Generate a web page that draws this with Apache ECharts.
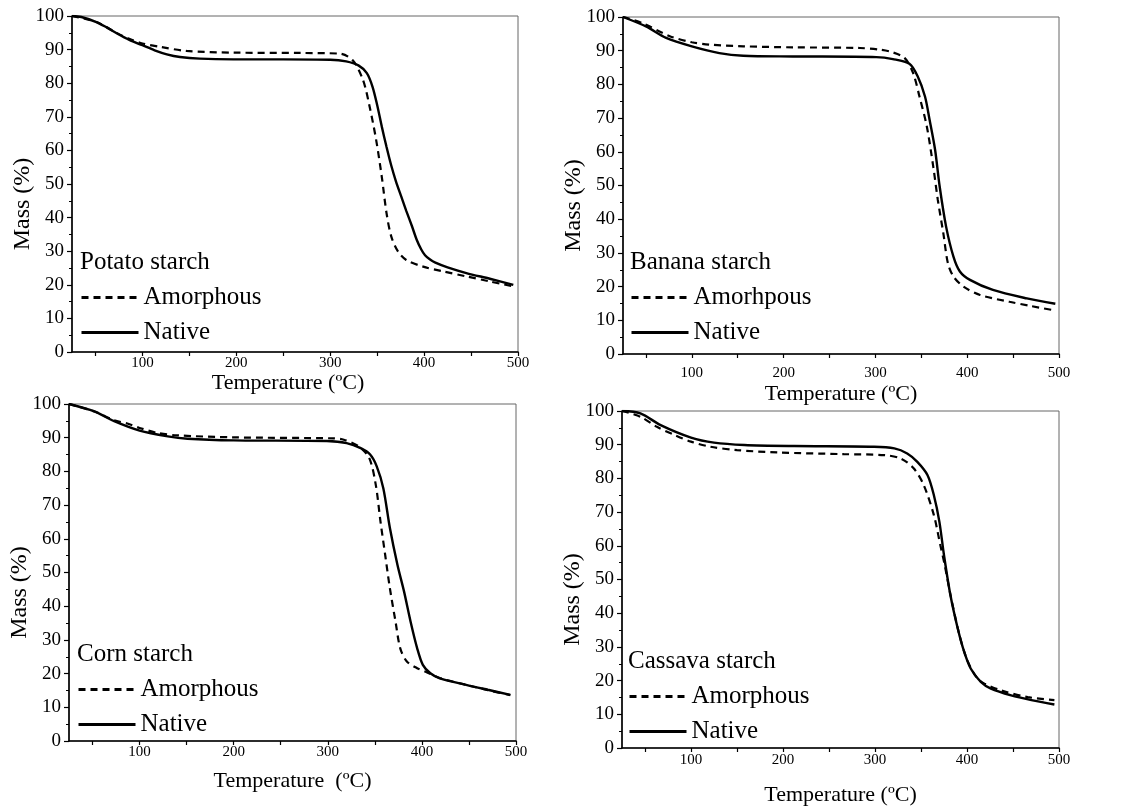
<!DOCTYPE html>
<html lang="en">
<head>
<meta charset="UTF-8">
<title>TGA starch</title>
<script src="https://cdn.jsdelivr.net/npm/echarts@6/dist/echarts.min.js"></script>
<style>html,body{margin:0;padding:0;background:#fff;}</style>
</head>
<body>
<div id="main" style="width:1133px;height:810px;"></div>
<script>
// values: [temperature (ºC), mass (%)]
var potatoAmorphous = [[25,100],[51,98.2],[73,94.9],[86,93.2],[100,91.8],[119,90.8],[147,89.6],[197,89.1],[268,89],[310,88.8],[324,86.8],[335,80.9],[342,73],[349,63],[355,52],[360,41.3],[365,34.4],[372,30],[381,27.4],[399,25.4],[420,24],[445,22.5],[470,21],[495,19.5]];
var potatoNative = [[25,100],[35,99.7],[51,98.2],[62,96.6],[73,94.8],[86,92.9],[100,91.3],[113,89.8],[126,88.6],[140,87.8],[161,87.3],[197,87.1],[250,87.1],[300,87],[317,86.5],[330,85.3],[339,83],[345,79],[350,73.5],[355,67],[360,61],[365,55.5],[370,50.8],[376,46],[381,42],[387,37.5],[392,33.5],[397,30.5],[401,28.8],[406,27.6],[412,26.6],[425,25.2],[445,23.5],[470,21.8],[495,20]];

var bananaAmorphous = [[25,100],[46,98.2],[76,94.3],[100,92.5],[119,91.8],[156,91.3],[210,91],[283,90.8],[305,90.3],[319,89.5],[332,87.8],[341,83.4],[348,76.4],[356,67.5],[363,55.6],[368,45.7],[374,35.8],[379,26.9],[385,23],[396,20],[414,17.5],[446,15.5],[470,14.2],[496,12.9]];
var bananaNative = [[25,100],[50,97.2],[72,93.8],[100,91.3],[130,89.3],[156,88.5],[210,88.3],[301,88.1],[319,87.5],[337,86.1],[346,82.4],[354,76.4],[359,69.5],[365,60.6],[370,49.7],[377,37.8],[385,28.9],[392,24.5],[403,22],[428,19],[465,16.5],[496,14.9]];

var cornAmorphous = [[25,100],[52,97.8],[73,95.2],[87,94.2],[100,92.9],[119,91.4],[140,90.7],[200,90.1],[306,89.8],[317,89.4],[333,87.4],[344,84],[351,76],[356,65.1],[361,55.2],[366,45.3],[372,35.4],[377,27.5],[384,23.6],[395,21.6],[405,20.4],[419,18.7],[448,16.6],[470,15.1],[494,13.6]];
var cornNative = [[25,100],[52,97.8],[73,94.9],[100,92.1],[130,90.4],[151,89.7],[200,89.2],[299,89],[320,88.4],[335,86.9],[345,85],[352,81.5],[359,75],[366,63.2],[374,52.3],[381,44.4],[388,35.4],[395,27.5],[401,22.6],[409,20.1],[419,18.6],[448,16.6],[470,15.2],[494,13.7]];

var cassavaAmorphous = [[25,100],[45,98.3],[63,95.3],[82,92.9],[100,90.9],[121,89.4],[150,88.4],[194,87.7],[266,87.2],[310,86.9],[328,85.9],[342,83],[353,78],[364,69.1],[371,60.2],[376,54],[382,45.5],[390,35.5],[397,28.5],[404,23.8],[412,20.5],[419,19.1],[437,17.1],[466,15.1],[495,14.2]];
var cassavaNative = [[25,100],[45,99.3],[67,95.8],[100,92.1],[125,90.6],[158,89.9],[212,89.6],[299,89.4],[321,88.9],[335,87.4],[346,84.9],[357,81],[364,75],[370,67.1],[375,57.2],[382,45.3],[390,35.4],[397,28.5],[404,23.6],[415,19.6],[426,17.6],[448,15.6],[470,14.2],[495,12.9]];

var xLabelValues = [100, 200, 300, 400, 500];
var xTickValues = [50, 100, 150, 200, 250, 300, 350, 400, 450, 500];

var font = 'Liberation Serif';

var chart = echarts.init(document.getElementById('main'));

// one entry per panel: grid box, names and a few label offsets
var panels = [
    {grid: {left: 72, top: 16, width: 446, height: 336}, title: 'Potato starch', amorph: 'Amorphous',
     amorphData: potatoAmorphous, nativeData: potatoNative, xName: 'Temperature (ºC)',
     labelMargin: 4, nameGap: 18, namePad: [0, 14, 0, 0], legendLeft: 80, legendTop: 285, titleTop: 250},
    {grid: {left: 623, top: 17, width: 436, height: 337}, title: 'Banana starch', amorph: 'Amorhpous',
     amorphData: bananaAmorphous, nativeData: bananaNative, xName: 'Temperature (ºC)',
     labelMargin: 12, nameGap: 29, namePad: [0, 0, 0, 0], legendLeft: 630, legendTop: 285, titleTop: 250},
    {grid: {left: 69, top: 404, width: 447, height: 337}, title: 'Corn starch', amorph: 'Amorphous',
     amorphData: cornAmorphous, nativeData: cornNative, xName: 'Temperature  (ºC)',
     labelMargin: 4, nameGap: 29, namePad: [0, 0, 0, 0], legendLeft: 77, legendTop: 677, titleTop: 642},
    {grid: {left: 622, top: 411, width: 437, height: 337}, title: 'Cassava starch', amorph: 'Amorphous',
     amorphData: cassavaAmorphous, nativeData: cassavaNative, xName: 'Temperature (ºC)',
     labelMargin: 5, nameGap: 36, namePad: [0, 0, 0, 0], legendLeft: 628, legendTop: 684, titleTop: 649}
];

var option = {
    backgroundColor: '#fff',
    animation: false,
    title: [],
    legend: [],
    grid: [],
    xAxis: [],
    yAxis: [],
    series: []
};

panels.forEach(function (p, i) {
    option.grid.push({
        left: p.grid.left, top: p.grid.top, width: p.grid.width, height: p.grid.height,
        show: true, borderColor: '#666', borderWidth: 1
    });
    option.xAxis.push({
        type: 'value', gridIndex: i, min: 25, max: 500,
        name: p.xName, nameLocation: 'middle', nameGap: p.nameGap,
        nameTextStyle: {fontFamily: font, fontSize: 22, color: '#000', padding: p.namePad},
        axisLine: {lineStyle: {color: '#000', width: 1.6}},
        axisTick: {show: true, customValues: xTickValues, length: 4, lineStyle: {color: '#000', width: 1.2}},
        axisLabel: {customValues: xLabelValues, fontFamily: font, fontSize: 15, color: '#000', margin: p.labelMargin},
        splitLine: {show: false}
    });
    option.yAxis.push({
        type: 'value', gridIndex: i, min: 0, max: 100, interval: 10,
        name: 'Mass (%)', nameLocation: 'middle', nameGap: 37, nameMoveOverlap: false,
        nameTextStyle: {fontFamily: font, fontSize: 24, color: '#000', padding: [0, 40, 0, 0]},
        axisLine: {show: true, lineStyle: {color: '#000', width: 1.6}},
        axisTick: {show: true, length: 5, lineStyle: {color: '#000', width: 1.2}},
        minorTick: {show: true, splitNumber: 2, length: 3, lineStyle: {color: '#000', width: 1}},
        axisLabel: {fontFamily: font, fontSize: 19, color: '#000', margin: 8},
        splitLine: {show: false}
    });
    option.title.push({
        text: p.title, left: p.legendLeft, top: p.titleTop, padding: 0,
        textStyle: {fontFamily: font, fontSize: 25, fontWeight: 'normal', color: '#000'}
    });
    option.legend.push({
        data: [p.amorph, 'Native'], orient: 'vertical', left: p.legendLeft, top: p.legendTop,
        padding: 0, itemWidth: 57, itemHeight: 14, itemGap: 10, selectedMode: false,
        itemStyle: {opacity: 0},
        lineStyle: {width: 3},
        textStyle: {fontFamily: font, fontSize: 25, color: '#000'}
    });
    option.series.push({
        name: p.amorph, type: 'line', xAxisIndex: i, yAxisIndex: i,
        data: p.amorphData, showSymbol: false, symbol: 'none', smooth: 0.3,
        lineStyle: {color: '#000', width: 2.2, type: [7, 5]}, itemStyle: {color: '#000'}
    });
    option.series.push({
        name: 'Native', type: 'line', xAxisIndex: i, yAxisIndex: i,
        data: p.nativeData, showSymbol: false, symbol: 'none', smooth: 0.3,
        lineStyle: {color: '#000', width: 2.4}, itemStyle: {color: '#000'}
    });
});

chart.setOption(option);
</script>
</body>
</html>
